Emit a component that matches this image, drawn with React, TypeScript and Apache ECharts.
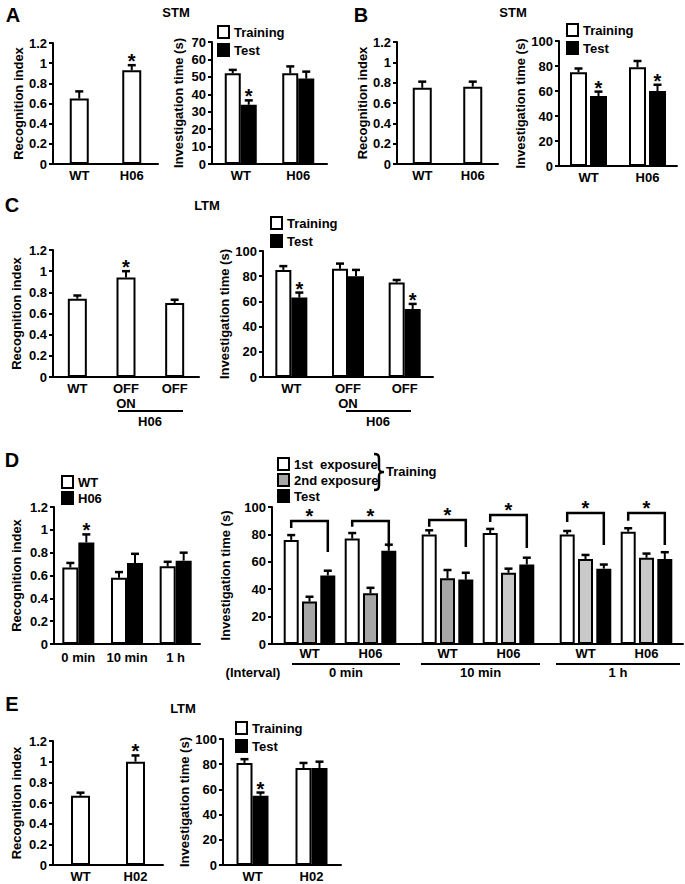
import React, { useEffect, useRef } from 'react';
import * as echarts from 'echarts';

const FONT = '"Liberation Sans", Arial, Helvetica, sans-serif';
const INK = '#000000';
const PAPER = '#ffffff';
const GRAY_DARK = '#a6a6a6';
const GRAY_LIGHT = '#c9c9c9';

// ===== Panel A (STM) =====
const aRiCats = ['WT', 'H06'];
const aRiVals = [0.65, 0.93];
const aRiErrs = [0.07, 0.05];
const aRiStars = [0, 1];
const aItCats = ['WT', 'H06'];
const aItTraining = [52, 52];
const aItTrainingErrs = [2, 4];
const aItTest = [34, 49];
const aItTestErrs = [2.5, 4];
const aItTestStars = [1, 0];

// ===== Panel B (STM) =====
const bRiCats = ['WT', 'H06'];
const bRiVals = [0.75, 0.76];
const bRiErrs = [0.06, 0.05];
const bItCats = ['WT', 'H06'];
const bItTraining = [75, 79];
const bItTrainingErrs = [3, 5];
const bItTest = [56, 60];
const bItTestErrs = [3.5, 5];
const bItTestStars = [1, 1];

// ===== Panel C (LTM) =====
const cCats = ['WT', 'OFF\nON', 'OFF'];
const cRiVals = [0.74, 0.94, 0.7];
const cRiErrs = [0.03, 0.06, 0.03];
const cRiStars = [0, 1, 0];
const cItTraining = [85, 86, 75];
const cItTrainingErrs = [3, 4, 2];
const cItTest = [63, 80, 54];
const cItTestErrs = [4, 5, 4];
const cItTestStars = [1, 0, 1];

// ===== Panel D =====
const dRiCats = ['0 min', '10 min', '1 h'];
const dRiWT = [0.67, 0.58, 0.68];
const dRiWTErrs = [0.04, 0.05, 0.04];
const dRiH06 = [0.89, 0.71, 0.73];
const dRiH06Errs = [0.07, 0.08, 0.07];
const dRiH06Stars = [1, 0, 0];

const dIntervals = ['0 min', '10 min', '1 h'];
const dGenotypes = ['WT', 'H06'];
// one row per interval: [WT, H06]
const dFirst = [[76, 77], [80, 81], [80, 82]];
const dFirstErrs = [[3.5, 4], [3, 3], [2.5, 2.5]];
const dSecond = [[31, 37], [48, 52], [62, 63]];
const dSecondErrs = [[3.5, 4], [6, 3], [3, 3]];
const dTest = [[50, 68], [47, 58], [55, 62]];
const dTestErrs = [[3.5, 4.5], [5, 5], [3, 5]];
const dBracketTop = [[89.8, 89.8], [90.5, 94.2], [95.6, 95.6]];
const dBracketLeftEnd = [[84.7, 85.5], [85.5, 89], [89, 90]];
const dBracketRightEnd = [[67.2, 70.8], [70.8, 70], [72.3, 72.3]];

// ===== Panel E (LTM) =====
const eRiCats = ['WT', 'H02'];
const eRiVals = [0.67, 1.0];
const eRiErrs = [0.03, 0.06];
const eRiStars = [0, 1];
const eItCats = ['WT', 'H02'];
const eItTraining = [81, 77];
const eItTrainingErrs = [3, 4];
const eItTest = [55, 77];
const eItTestErrs = [2.5, 5];
const eItTestStars = [1, 0];

// ===== styles =====
const dSecondColors = [[GRAY_DARK, GRAY_DARK], [GRAY_DARK, GRAY_LIGHT], [GRAY_LIGHT, GRAY_LIGHT]];
const boldText = { color: INK, fontFamily: FONT, fontWeight: 'bold', fontSize: 13 };
const starStyle = {
  fontSize: 20, fontWeight: 'bold', fontFamily: FONT, fill: INK, lineHeight: 12,
  align: 'center', verticalAlign: 'middle', textAlign: 'center', textVerticalAlign: 'middle',
};

// curly brace glyph drawn as a stroked path
echarts.graphic.registerShape(
  'brace',
  echarts.graphic.extendPath('M0,0 C4,0 5,1 5,5 L5,14 C5,17 6,18 10,18 C6,18 5,19 5,22 L5,31 C5,35 4,36 0,36', {})
);

type BarSet = { name?: string; values: number[]; errs: number[]; stars?: number[]; colors: string[] };
type ChartCfg = {
  left: number; top: number; width: number; height: number;
  cats: string[]; yMax: number; yStep: number; yName?: string; nameGap?: number;
  sets: BarSet[]; barWidth: number; gapPx: number;
  showY?: boolean; showXLine?: boolean; xLabelMargin?: number;
  brackets?: { top: number[]; left: number[]; right: number[] };
};

function addChart(opt: any, c: ChartCfg) {
  const gi = opt.grid.length;
  opt.grid.push({ left: c.left, top: c.top, width: c.width, height: c.height });
  opt.xAxis.push({
    type: 'category', gridIndex: gi, data: c.cats,
    axisLine: { show: c.showXLine !== false, lineStyle: { color: INK, width: 2 } },
    axisTick: { show: false },
    axisLabel: {
      show: c.cats.some((s) => s !== ''), ...boldText,
      margin: c.xLabelMargin ?? 4, interval: 0, lineHeight: 15,
    },
    splitLine: { show: false },
  });
  opt.yAxis.push({
    type: 'value', gridIndex: gi, min: 0, max: c.yMax, interval: c.yStep,
    show: c.showY !== false,
    name: c.yName, nameLocation: 'middle', nameGap: c.nameGap ?? 28, nameRotate: 90,
    nameTextStyle: { ...boldText },
    axisLine: { show: true, lineStyle: { color: INK, width: 2 } },
    axisTick: { show: true, length: 4, lineStyle: { color: INK, width: 2 } },
    axisLabel: { ...boldText, margin: 6 },
    splitLine: { show: false },
  });
  const n = c.sets.length;
  if (!n) return;
  const step = c.barWidth + c.gapPx;
  const gapPct = (c.gapPx / c.barWidth) * 100 + '%';
  c.sets.forEach((s) => {
    opt.series.push({
      type: 'bar', name: s.name, xAxisIndex: gi, yAxisIndex: gi,
      barWidth: c.barWidth, barGap: gapPct,
      itemStyle: { borderColor: INK, borderWidth: 2 },
      data: s.values.map((v, k) => ({
        value: v,
        itemStyle: { color: s.colors[k % s.colors.length], borderColor: INK, borderWidth: 2 },
      })),
      z: 2,
    });
  });
  const errData: number[][] = [];
  c.sets.forEach((s, si) =>
    s.values.forEach((v, k) => errData.push([k, v, s.errs[k], si, s.stars ? s.stars[k] : 0]))
  );
  opt.series.push({
    type: 'custom', xAxisIndex: gi, yAxisIndex: gi, z: 5, silent: true,
    encode: { x: 0, y: 1 },
    data: errData,
    renderItem: (_p: any, api: any) => {
      const k = api.value(0);
      const v = api.value(1);
      const e = api.value(2);
      const si = api.value(3);
      const st = api.value(4);
      const base = api.coord([k, v]);
      const tip = api.coord([k, v + e]);
      const x = base[0] + (si - (n - 1) / 2) * step;
      const children: any[] = [
        { type: 'line', shape: { x1: x, y1: base[1], x2: x, y2: tip[1] }, style: { stroke: INK, lineWidth: 2 } },
        { type: 'line', shape: { x1: x - 4, y1: tip[1], x2: x + 4, y2: tip[1] }, style: { stroke: INK, lineWidth: 2.5 } },
      ];
      if (st) children.push({ type: 'text', x, y: tip[1] - 4, style: { text: '*', ...starStyle } });
      return { type: 'group', children };
    },
  });
  if (c.brackets) {
    const br = c.brackets;
    opt.series.push({
      type: 'custom', xAxisIndex: gi, yAxisIndex: gi, z: 5, silent: true,
      encode: { x: 0, y: 2 },
      data: c.cats.map((_, k) => [k, br.left[k], br.top[k], br.right[k]]),
      renderItem: (_p: any, api: any) => {
        const k = api.value(0);
        const xc = api.coord([k, 0])[0];
        const xl = xc - ((n - 1) / 2) * step;
        const xr = xc + ((n - 1) / 2) * step;
        const yl = api.coord([k, api.value(1)])[1];
        const yt = api.coord([k, api.value(2)])[1];
        const yr = api.coord([k, api.value(3)])[1];
        return {
          type: 'group',
          children: [
            {
              type: 'polyline',
              shape: { points: [[xl, yl], [xl, yt], [xr, yt], [xr, yr]] },
              style: { stroke: INK, lineWidth: 2.5, fill: 'none' },
            },
            { type: 'text', x: (xl + xr) / 2, y: yt - 5, style: { text: '*', ...starStyle } },
          ],
        };
      },
    });
  }
}

const txt = (x: number, y: number, text: string, size = 13, align = 'center', weight = 'bold') => ({
  type: 'text', x, y, silent: true,
  style: {
    text, fontSize: size, fontWeight: weight, fontFamily: FONT, fill: INK,
    align, verticalAlign: 'middle', textAlign: align, textVerticalAlign: 'middle',
  },
});
const seg = (x1: number, y1: number, x2: number, y2: number) => ({
  type: 'line', silent: true, shape: { x1, y1, x2, y2 }, style: { stroke: INK, lineWidth: 2 },
});

function buildOption() {
  const opt: any = {
    animation: false, backgroundColor: PAPER,
    grid: [], xAxis: [], yAxis: [], series: [], legend: [], graphic: [],
  };
  const RI = 'Recognition index';
  const IT = 'Investigation time (s)';
  const white = [PAPER];
  const black = [INK];

  // A
  addChart(opt, { left: 53, top: 43, width: 105, height: 121, cats: aRiCats, yMax: 1.2, yStep: 0.2, yName: RI, nameGap: 27,
    sets: [{ values: aRiVals, errs: aRiErrs, stars: aRiStars, colors: white }], barWidth: 19, gapPx: 0 });
  addChart(opt, { left: 212, top: 42, width: 115, height: 122, cats: aItCats, yMax: 70, yStep: 10, yName: IT, nameGap: 27,
    sets: [
      { name: 'Training', values: aItTraining, errs: aItTrainingErrs, colors: white },
      { name: 'Test', values: aItTest, errs: aItTestErrs, stars: aItTestStars, colors: black },
    ], barWidth: 16, gapPx: 0 });
  // B
  addChart(opt, { left: 397, top: 42, width: 101, height: 122, cats: bRiCats, yMax: 1.2, yStep: 0.2, yName: RI, nameGap: 27,
    sets: [{ values: bRiVals, errs: bRiErrs, colors: white }], barWidth: 19, gapPx: 0 });
  addChart(opt, { left: 559, top: 41, width: 118, height: 125, cats: bItCats, yMax: 100, yStep: 20, yName: IT, nameGap: 28,
    sets: [
      { name: 'Training', values: bItTraining, errs: bItTrainingErrs, colors: white },
      { name: 'Test', values: bItTest, errs: bItTestErrs, stars: bItTestStars, colors: black },
    ], barWidth: 17, gapPx: 3 });
  // C
  addChart(opt, { left: 53, top: 250, width: 146, height: 127, cats: cCats, yMax: 1.2, yStep: 0.2, yName: RI, nameGap: 30,
    sets: [{ values: cRiVals, errs: cRiErrs, stars: cRiStars, colors: white }], barWidth: 19, gapPx: 0 });
  addChart(opt, { left: 263, top: 251, width: 170, height: 126, cats: cCats, yMax: 100, yStep: 20, yName: IT, nameGap: 30,
    sets: [
      { name: 'Training', values: cItTraining, errs: cItTrainingErrs, colors: white },
      { name: 'Test', values: cItTest, errs: cItTestErrs, stars: cItTestStars, colors: black },
    ], barWidth: 16, gapPx: 0 });
  // D left
  addChart(opt, { left: 54, top: 507, width: 146, height: 137, cats: dRiCats, yMax: 1.2, yStep: 0.2, yName: RI, nameGap: 31,
    xLabelMargin: 6,
    sets: [
      { name: 'WT', values: dRiWT, errs: dRiWTErrs, colors: white },
      { name: 'H06', values: dRiH06, errs: dRiH06Errs, stars: dRiH06Stars, colors: black },
    ], barWidth: 16, gapPx: 0 });
  // D right: shared frame, then one grid per interval
  addChart(opt, { left: 272, top: 507, width: 411, height: 137, cats: [''], yMax: 100, yStep: 20, yName: IT, nameGap: 40,
    sets: [], barWidth: 15, gapPx: 0 });
  const dLefts = [279, 417, 555];
  dIntervals.forEach((_, i) => {
    addChart(opt, {
      left: dLefts[i], top: 507, width: 122, height: 137, cats: dGenotypes, yMax: 100, yStep: 20,
      showY: false, showXLine: false, xLabelMargin: 2,
      sets: [
        { name: '1st  exposure', values: dFirst[i], errs: dFirstErrs[i], colors: white },
        { name: '2nd exposure', values: dSecond[i], errs: dSecondErrs[i], colors: dSecondColors[i] },
        { name: 'Test', values: dTest[i], errs: dTestErrs[i], colors: black },
      ],
      barWidth: 15, gapPx: 3.3,
      brackets: { top: dBracketTop[i], left: dBracketLeftEnd[i], right: dBracketRightEnd[i] },
    });
  });
  // E
  addChart(opt, { left: 53, top: 741, width: 110, height: 127, cats: eRiCats, yMax: 1.2, yStep: 0.2, yName: RI, nameGap: 30,
    sets: [{ values: eRiVals, errs: eRiErrs, stars: eRiStars, colors: white }], barWidth: 19, gapPx: 0 });
  addChart(opt, { left: 223, top: 739, width: 118, height: 129, cats: eItCats, yMax: 100, yStep: 20, yName: IT, nameGap: 29,
    sets: [
      { name: 'Training', values: eItTraining, errs: eItTrainingErrs, colors: white },
      { name: 'Test', values: eItTest, errs: eItTestErrs, stars: eItTestStars, colors: black },
    ], barWidth: 16, gapPx: 0 });

  // legends
  const legendBase = {
    orient: 'vertical', icon: 'rect', itemWidth: 11, itemHeight: 12, itemGap: 4,
    selectedMode: false, padding: 0, textStyle: { ...boldText },
  };
  const item = (name: string, color: string) => ({ name, itemStyle: { color, borderColor: INK, borderWidth: 2 } });
  const trainTest = [item('Training', PAPER), item('Test', INK)];
  opt.legend = [
    { ...legendBase, left: 217, top: 25, data: trainTest },
    { ...legendBase, left: 566, top: 23, data: trainTest },
    { ...legendBase, left: 270, top: 216, data: trainTest },
    { ...legendBase, left: 61, top: 475, itemGap: 2, data: [item('WT', PAPER), item('H06', INK)] },
    { ...legendBase, left: 277, top: 457, itemGap: 2, data: [item('1st  exposure', PAPER), item('2nd exposure', GRAY_DARK), item('Test', INK)] },
    { ...legendBase, left: 235, top: 721, data: trainTest },
  ];

  // annotations
  const g: any[] = [
    txt(13, 15, 'A', 20), txt(176, 12, 'STM'),
    txt(361, 15, 'B', 20), txt(513, 12, 'STM'),
    txt(12, 205, 'C', 20), txt(207, 205, 'LTM'),
    seg(118, 411, 183, 411), txt(150, 421, 'H06'),
    seg(346, 411, 411, 411), txt(378, 421, 'H06'),
    txt(12, 460, 'D', 20),
    { type: 'brace', x: 374, y: 454, silent: true, style: { stroke: INK, lineWidth: 2.5, fill: 'none' } },
    txt(386, 471, 'Training', 13, 'left'),
    txt(253, 672, '(Interval)'),
    txt(12, 704, 'E', 20), txt(183, 708, 'LTM'),
  ];
  const lineSpans = [[292, 400], [421, 540], [556, 680]];
  dIntervals.forEach((name, i) => {
    const [a, b] = lineSpans[i];
    g.push(seg(a, 664, b, 664));
    g.push(txt((a + b) / 2, 672, name));
  });
  opt.graphic = { elements: g };
  return opt;
}

export default function App() {
  const ref = useRef<HTMLDivElement>(null);
  useEffect(() => {
    if (!ref.current) return;
    const chart = echarts.init(ref.current, undefined, { renderer: 'svg' });
    chart.setOption(buildOption());
    return () => chart.dispose();
  }, []);
  return (
    <div
      ref={ref}
      style={{ position: 'absolute', left: 0, top: 0, width: 685, height: 884, background: '#fff' }}
    />
  );
}
